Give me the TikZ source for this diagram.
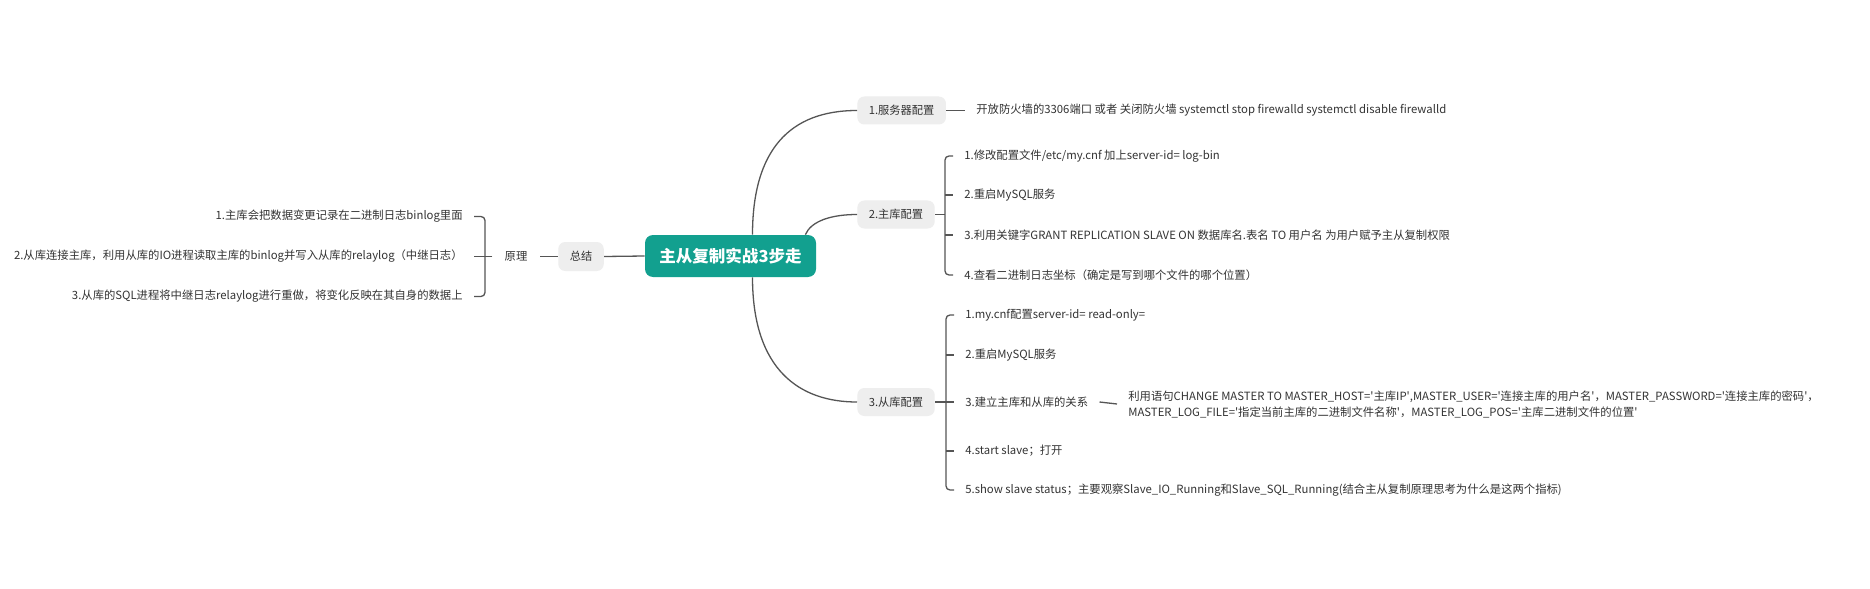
\documentclass[tikz,border=0pt]{standalone}
\usepackage{fontspec}
\setmainfont{Noto Sans CJK SC}
\usepackage{xcolor}
\usepackage{tikz}
\usetikzlibrary{calc}
\definecolor{rootteal}{HTML}{12A08F}
\definecolor{boxgray}{HTML}{EEEEEE}
\definecolor{linegray}{HTML}{555555}
\definecolor{textgray}{HTML}{333333}
\newcommand{\sq}{\textquotesingle}

\begin{document}
\begin{tikzpicture}[
    rootnode/.style={fill=rootteal, text=white, rounded corners=0.16cm, minimum width=3.42cm, minimum height=0.84cm, font=\fontsize{9.4}{11}\selectfont\bfseries},
    topic/.style={fill=boxgray, text=textgray, rounded corners=0.14cm, minimum height=0.56cm, inner xsep=0.23cm, font=\fontsize{6.4}{7.5}\selectfont},
    leaf/.style={text=textgray, inner xsep=0.22cm, inner ysep=0.05cm, font=\fontsize{6.45}{9.1}\selectfont},
    link/.style={draw=linegray, line width=0.026cm},
    bracket/.style={link, rounded corners=0.08cm}
]
    \fill[white] (0,0) rectangle (37.4,-11.78);

    % Root
    \node[rootnode] (root) at (14.61,-5.12) {主从复制实战3步走};

    % Left branch
    \node[topic, minimum height=0.58cm] (sum) at (11.62,-5.13) {总结};
    \node[leaf, inner xsep=0.24cm] (prin) at (10.32,-5.13) {原理};
    \node[leaf, anchor=east] (p1) at (9.48,-4.33) {1.主库会把数据变更记录在二进制日志binlog里面};
    \node[leaf, anchor=east] (p2) at (9.48,-5.13) {2.从库连接主库，利用从库的IO进程读取主库的binlog并写入从库的relaylog（中继日志）};
    \node[leaf, anchor=east] (p3) at (9.48,-5.93) {3.从库的SQL进程将中继日志relaylog进行重做，将变化反映在其自身的数据上};
    \coordinate (lsp) at (9.70,-5.13);

    % Right branch topics
    \node[topic, anchor=west] (srv) at (17.14,-2.21) {1.服务器配置};
    \node[topic, anchor=west] (mst) at (17.14,-4.29) {2.主库配置};
    \node[topic, anchor=west] (slv) at (17.14,-8.04) {3.从库配置};

    % Server
    \node[leaf, anchor=west] (f1) at (19.30,-2.21) {开放防火墙的3306端口 或者 关闭防火墙 systemctl stop firewalld systemctl disable firewalld};

    % Master
    \node[leaf, anchor=west] (m1) at (19.06,-3.12) {1.修改配置文件/etc/my.cnf 加上server-id= log-bin};
    \node[leaf, anchor=west] (m2) at (19.06,-3.90) {2.重启MySQL服务};
    \node[leaf, anchor=west] (m3) at (19.06,-4.70) {3.利用关键字GRANT REPLICATION SLAVE  ON 数据库名.表名 TO 用户名 为用户赋予主从复制权限};
    \node[leaf, anchor=west] (m4) at (19.06,-5.50) {4.查看二进制日志坐标（确定是写到哪个文件的哪个位置）};
    \coordinate (msp) at (18.90,-4.29);

    % Slave
    \node[leaf, anchor=west] (s1) at (19.08,-6.30) {1.my.cnf配置server-id= read-only=};
    \node[leaf, anchor=west] (s2) at (19.08,-7.10) {2.重启MySQL服务};
    \node[leaf, anchor=west] (s3) at (19.08,-8.04) {3.建立主库和从库的关系};
    \node[leaf, anchor=west] (s4) at (19.08,-9.02) {4.start slave；打开};
    \node[leaf, anchor=west] (s5) at (19.08,-9.80) {5.show slave status；主要观察Slave\_IO\_Running和Slave\_SQL\_Running(结合主从复制原理思考为什么是这两个指标)};
    \node[leaf, anchor=west, align=left] (s3d) at (22.34,-8.08) {利用语句CHANGE MASTER  TO MASTER\_HOST=\sq{}主库IP\sq{},MASTER\_USER=\sq{}连接主库的用户名\sq{}，MASTER\_PASSWORD=\sq{}连接主库的密码\sq{}，\\MASTER\_LOG\_FILE=\sq{}指定当前主库的二进制文件名称\sq{}，MASTER\_LOG\_POS=\sq{}主库二进制文件的位置\sq{}};
    \coordinate (ssp) at (18.92,-8.04);

    % Edges
    \draw[link] (root.west) -- (sum.east);
    \draw[link] (sum.west) -- (prin.east);
    \draw[link] (prin.west) -- (lsp) -- (p2.east);
    \draw[bracket] (p1.east) -| (lsp) |- (p3.east);

    \draw[link] ([xshift=0.44cm]root.north) .. controls +(0,1.7) and +(-1.34,0) .. (srv.west);
    \draw[link] ([xshift=-0.22cm]root.north east) .. controls +(0.12,0.28) and +(-0.5,0) .. (mst.west);
    \draw[link] ([xshift=0.44cm]root.south) .. controls +(0,-1.86) and +(-1.14,0) .. (slv.west);

    \draw[link] (srv.east) -- (f1.west);

    \draw[link] (mst.east) -- (msp);
    \draw[bracket] (m1.west) -| (msp) |- (m4.west);
    \draw[link] (msp |- m2.west) -- (m2.west);
    \draw[link] (msp |- m3.west) -- (m3.west);

    \draw[link] (slv.east) -- (ssp) -- (s3.west);
    \draw[bracket] (s1.west) -| (ssp) |- (s5.west);
    \draw[link] (ssp |- s2.west) -- (s2.west);
    \draw[link] (ssp |- s4.west) -- (s4.west);
    \draw[link] (s3.east) -- (s3d.west);

\end{tikzpicture}
\end{document}
